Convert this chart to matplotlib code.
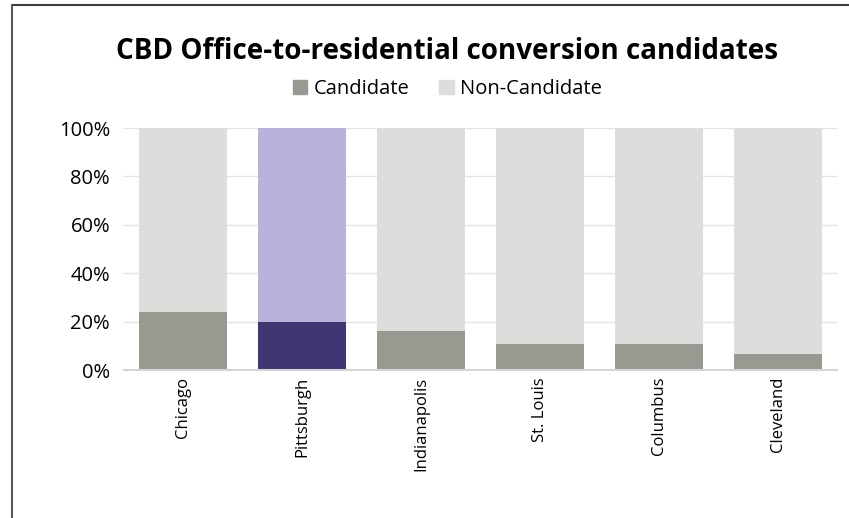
import matplotlib.pyplot as plt
from matplotlib.patches import Patch
from matplotlib.lines import Line2D
import numpy as np

plt.rcParams['font.family'] = ['Open Sans', 'DejaVu Sans']

# Data (share of CBD office stock)
cities = ['Chicago', 'Pittsburgh', 'Indianapolis', 'St. Louis', 'Columbus', 'Cleveland']
candidate = [0.24, 0.20, 0.16, 0.107, 0.107, 0.065]
non_candidate = [1 - c for c in candidate]

# Colours
grey_dark = '#989990'
grey_light = '#DDDDDB'
purple_dark = '#3F3673'
purple_light = '#B8B2DC'
highlight = 'Pittsburgh'

fig = plt.figure(figsize=(8.49, 5.18), dpi=100)
ax = fig.add_axes([124 / 849, 1 - 370 / 518, (837 - 124) / 849, (370 - 128) / 518])

x = np.arange(len(cities))
bottom_cols = [purple_dark if c == highlight else grey_dark for c in cities]
top_cols = [purple_light if c == highlight else grey_light for c in cities]

ax.bar(x, candidate, width=0.74, color=bottom_cols, zorder=2)
ax.bar(x, non_candidate, width=0.74, bottom=candidate, color=top_cols, zorder=2)

ax.set_xlim(-0.5, len(cities) - 0.5)
ax.set_ylim(0, 1)
ax.set_yticks(np.arange(0, 1.01, 0.2))
ax.set_yticklabels(['{:.0f}%'.format(v * 100) for v in np.arange(0, 1.01, 0.2)], fontsize=14.5)
ax.set_xticks(x)
ax.set_xticklabels(cities, rotation=90, fontsize=12)
ax.tick_params(axis='both', length=0, colors='#000000')
ax.tick_params(axis='y', pad=10)
ax.tick_params(axis='x', pad=5)
ax.grid(axis='y', color='#E3E3E3', linewidth=1, zorder=0)
for s in ['top', 'right', 'left']:
    ax.spines[s].set_visible(False)
ax.spines['bottom'].set_color('#D4D4D4')
ax.spines['bottom'].set_linewidth(1.5)

fig.text(0.527, 0.900, 'CBD Office-to-residential conversion candidates',
         ha='center', va='center', fontsize=20, fontweight='bold')

handles = [Patch(color=grey_dark, label='Candidate'),
           Patch(color=grey_light, label='Non-Candidate')]
fig.legend(handles=handles, loc='center', bbox_to_anchor=(0.527, 0.828), ncol=2,
           frameon=False, fontsize=14.5, handlelength=0.7, handleheight=0.7,
           handletextpad=0.3, columnspacing=1.5)

# chart frame (top and left edge)
fig.add_artist(Line2D([12 / 849, 1], [1 - 5 / 518, 1 - 5 / 518], color='#3A3A3A', linewidth=1.5))
fig.add_artist(Line2D([12 / 849, 12 / 849], [0, 1 - 5 / 518], color='#5A5A5A', linewidth=1.5))

fig.savefig('out.png', dpi=100)
